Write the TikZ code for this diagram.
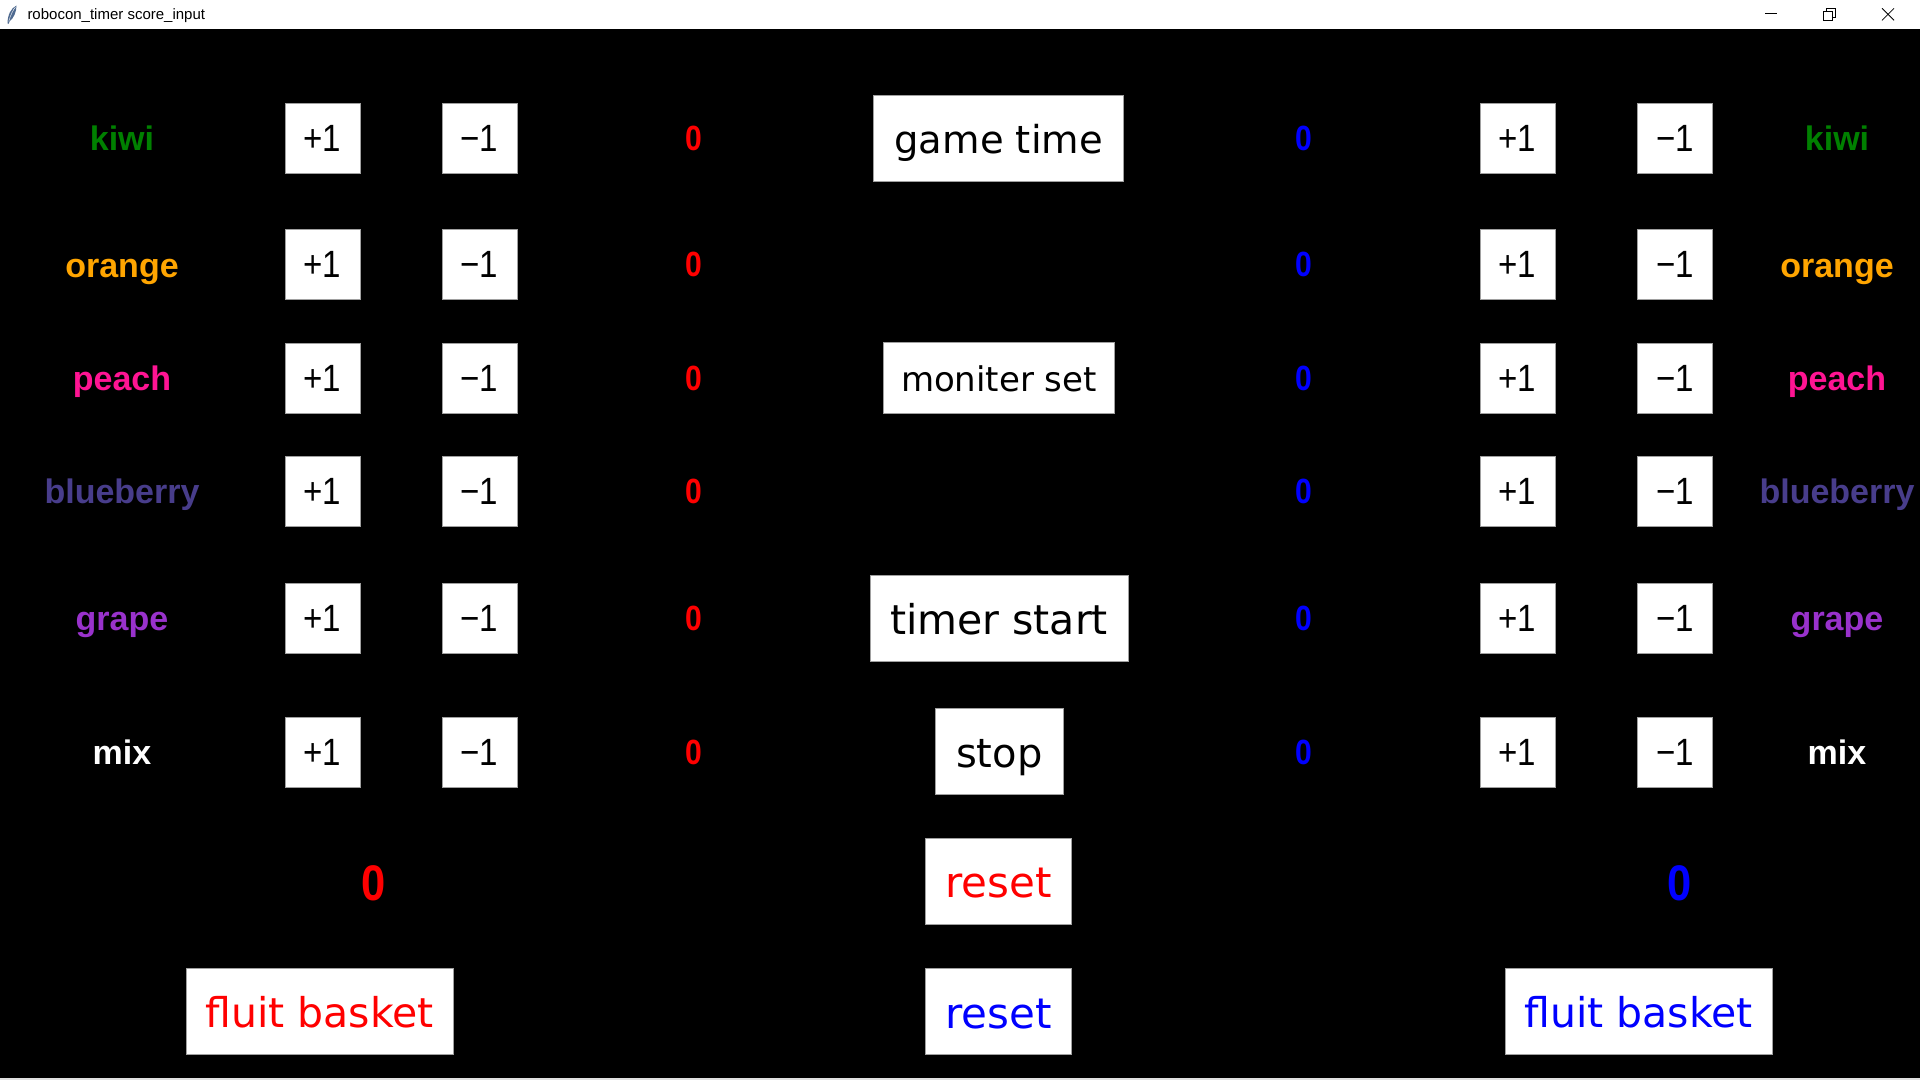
\documentclass[tikz,border=0pt]{standalone}
\usepackage{fontspec}
\setmainfont{Liberation Sans}
\newfontfamily\btnfont{DejaVu Sans}
\newcommand\fsz[1]{\fontsize{#1}{#1}\selectfont}
\definecolor{kiwic}{HTML}{008000}
\definecolor{orangec}{HTML}{FFA500}
\definecolor{peachc}{HTML}{FF1493}
\definecolor{blueberryc}{HTML}{483D8B}
\definecolor{grapec}{HTML}{9932CC}
\definecolor{redc}{HTML}{FF0000}
\definecolor{bluec}{HTML}{0000FF}
\definecolor{btnedge}{HTML}{A0A0A0}
\definecolor{iconc}{HTML}{4F6A90}
\tikzset{
  lbl/.style={anchor=base, inner sep=0pt, font=\fsz{34}\bfseries},
  pmbtn/.style={draw=btnedge, fill=white, line width=1pt, minimum width=75pt,
    minimum height=70pt, inner sep=0pt, font=\fsz{38}, text=black},
  scoresm/.style={anchor=base, inner sep=0pt, font=\fsz{35}\bfseries},
  scorebig/.style={anchor=base, inner sep=0pt, font=\fsz{50}\bfseries},
  cbtn/.style={draw=btnedge, fill=white, line width=1pt, inner sep=0pt,
    minimum height=86pt, font=\btnfont\fsz{#1}, text height=#1pt, text depth=0.2*#1pt},
  winctl/.style={draw=black, line width=0.8pt}
}
\begin{document}
\begin{tikzpicture}[x=1pt,y=-1pt]
\useasboundingbox (0,0) rectangle (1920,1080);
\fill[black] (0,0) rectangle (1920,1080);
\fill[white] (0,0) rectangle (1920,28.5);
\fill[black!12] (0,1077.5) rectangle (1920,1080);
% title bar
\fill[iconc] (7.5,23.5) .. controls (7.5,15) and (11,8) .. (16.5,5.5) .. controls (16.5,12) and (13.5,18.5) .. (9.5,21.5) -- (8.6,23.8) -- cycle;
\draw[white, line width=0.4pt] (8.8,21.5) .. controls (10.5,15) and (13,10) .. (15.5,7);
\node[anchor=base west, inner sep=0pt, font=\fsz{15}] (title) at (27.3,19.3) {robocon\_timer score\_input};
\draw[winctl] (1765,13.5) -- (1777,13.5);
\draw[winctl] (1823.5,11) rectangle (1832.5,20);
\draw[winctl] (1826,11) -- (1826,8.3) -- (1835,8.3) -- (1835,17.3) -- (1832.5,17.3);
\draw[winctl] (1882,8.3) -- (1894,20.3);
\draw[winctl] (1882,20.3) -- (1894,8.3);
% rows
\foreach \name/\col/\y [count=\i] in {kiwi/kiwic/138, orange/orangec/264.5, peach/peachc/378, blueberry/blueberryc/491, grape/grapec/618, mix/white/752} {
  \node[lbl, text=\col] (labL\i) at (122,\y+12.5) {\name};
  \node[pmbtn] (plusL\i) at (322.5,\y) {\scalebox{0.87}[1]{+1}};
  \node[pmbtn] (minusL\i) at (479.5,\y) {\scalebox{0.87}[1]{−1}};
  \node[scoresm, text=redc] (scL\i) at (694,\y+12.3) {\scalebox{0.86}[1]{0}};
  \node[scoresm, text=bluec] (scR\i) at (1304,\y+12.3) {\scalebox{0.86}[1]{0}};
  \node[pmbtn] (plusR\i) at (1517.5,\y) {\scalebox{0.87}[1]{+1}};
  \node[pmbtn] (minusR\i) at (1675,\y) {\scalebox{0.87}[1]{−1}};
  \node[lbl, text=\col] (labR\i) at (1837,\y+12.5) {\name};
}
% centre column
\node[cbtn=38.5, minimum width=250pt] (gametime) at (998.7,138) {game time};
\node[cbtn=34, minimum width=231pt, minimum height=71pt] (moniter) at (999,377.8) {moniter set};
\node[cbtn=41, minimum width=258pt] (timerstart) at (999,618) {timer start};
\node[cbtn=40, minimum width=128pt] (stop) at (999.2,751.7) {stop};
\node[cbtn=42, minimum width=146pt, text=redc] (resetred) at (998.5,881) {reset};
\node[cbtn=42, minimum width=146pt, text=bluec] (resetblue) at (998.5,1011.5) {reset};
% totals
\node[scorebig, text=redc] (totalL) at (373.5,900) {\scalebox{0.87}[1]{0}};
\node[scorebig, text=bluec] (totalR) at (1679.7,900) {\scalebox{0.87}[1]{0}};
\node[cbtn=41, minimum width=267pt, text=redc] (basketL) at (319.5,1011.5) {fluit basket};
\node[cbtn=41, minimum width=267pt, text=bluec] (basketR) at (1638.7,1011.5) {fluit basket};
\end{tikzpicture}
\end{document}
